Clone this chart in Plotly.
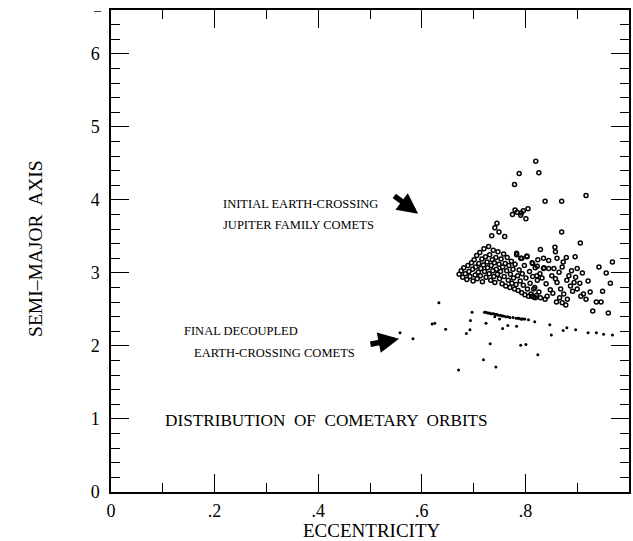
import plotly.graph_objects as go

# ---- data ----
x_tick_vals = [0, 0.2, 0.4, 0.6, 0.8, 1.0]
x_tick_text = ["0", ".2", ".4", ".6", ".8", "1"]
y_tick_vals = [0, 1, 2, 3, 4, 5, 6]
y_tick_text = ["0", "1", "2", "3", "4", "5", "6"]

# initial Earth-crossing Jupiter family comets (open circles)
initial_pts = [
    (0.820, 4.53), (0.788, 4.36), (0.826, 4.37), (0.779, 4.21), (0.917, 4.06), (0.838, 3.98), (0.870, 3.98),
    (0.775, 3.80), (0.780, 3.86), (0.784, 3.83), (0.792, 3.82), (0.796, 3.85), (0.805, 3.88), (0.801, 3.74), (0.791, 3.79),
    (0.745, 3.68), (0.741, 3.62), (0.749, 3.56), (0.735, 3.51), (0.760, 3.50), (0.870, 3.56), (0.906, 3.41), (0.829, 3.32),
    (0.857, 3.35), (0.858, 3.29), (0.879, 3.21), (0.896, 3.22), (0.942, 3.08), (0.968, 3.15), (0.956, 3.00), (0.964, 2.86),
    (0.937, 2.60), (0.946, 2.60), (0.930, 2.48), (0.960, 2.45), (0.921, 2.89), (0.949, 2.75),
    (0.672, 2.98), (0.676, 3.03), (0.679, 2.94), (0.681, 3.07), (0.684, 2.99), (0.687, 2.91), (0.689, 3.10), (0.691, 3.02),
    (0.693, 2.95), (0.696, 3.14), (0.698, 3.05), (0.699, 2.89),
    (0.701, 3.18), (0.703, 2.97), (0.704, 3.08), (0.706, 3.24), (0.707, 2.92), (0.709, 3.01), (0.710, 3.13), (0.712, 3.28),
    (0.713, 2.96), (0.714, 3.06), (0.716, 3.19), (0.717, 2.88), (0.719, 3.11), (0.720, 3.33), (0.721, 3.02), (0.723, 3.22),
    (0.724, 2.94), (0.726, 3.15), (0.727, 3.07), (0.729, 3.36), (0.730, 2.99), (0.731, 3.25), (0.733, 2.90), (0.734, 3.10),
    (0.736, 3.18), (0.737, 3.03), (0.738, 3.31), (0.739, 2.95), (0.740, 3.14),
    (0.741, 2.87), (0.743, 3.21), (0.744, 3.05), (0.746, 2.98), (0.747, 3.29), (0.749, 3.12), (0.750, 2.92), (0.752, 3.02),
    (0.753, 3.19), (0.755, 2.85), (0.756, 3.08), (0.758, 3.26), (0.759, 2.95), (0.761, 3.13), (0.762, 2.82), (0.764, 3.03),
    (0.765, 3.21), (0.767, 2.90), (0.768, 3.10), (0.770, 2.80), (0.771, 2.98), (0.773, 3.16), (0.774, 2.86), (0.776, 3.05),
    (0.777, 2.93), (0.779, 2.78),
    (0.780, 3.12), (0.782, 2.84), (0.783, 3.27), (0.785, 2.96), (0.786, 2.76), (0.788, 3.04), (0.790, 2.89), (0.791, 3.20),
    (0.793, 2.73), (0.794, 2.99), (0.796, 2.83), (0.798, 3.10), (0.799, 2.70), (0.801, 2.93), (0.803, 3.23), (0.804, 2.78),
    (0.806, 2.68), (0.808, 3.02), (0.809, 2.86), (0.811, 2.71), (0.813, 3.14), (0.814, 2.95), (0.816, 2.67), (0.818, 2.80),
    (0.819, 3.07), (0.821, 2.69), (0.823, 2.90), (0.824, 3.18), (0.826, 2.74), (0.828, 2.99), (0.829, 2.66),
    (0.835, 3.20), (0.845, 3.06), (0.851, 2.96), (0.861, 2.87), (0.868, 2.78), (0.874, 2.71), (0.881, 2.64), (0.887, 2.82),
    (0.894, 2.87), (0.900, 2.78), (0.907, 2.68), (0.912, 2.71), (0.917, 2.64), (0.871, 2.59), (0.878, 2.56), (0.842, 2.68),
    (0.848, 2.77), (0.855, 3.06), (0.865, 3.01), (0.871, 3.08), (0.873, 3.15), (0.861, 3.20), (0.884, 2.96), (0.891, 2.75),
    (0.897, 2.94), (0.900, 3.06), (0.845, 3.17), (0.835, 3.06), (0.822, 2.96), (0.816, 2.78), (0.812, 2.68), (0.819, 2.66),
    (0.838, 2.64), (0.783, 3.25), (0.793, 3.20), (0.803, 3.22), (0.814, 3.13), (0.823, 3.09), (0.836, 3.07), (0.832, 2.93),
    (0.840, 2.85), (0.853, 2.72), (0.858, 2.92), (0.866, 2.66), (0.880, 2.90), (0.889, 3.03), (0.905, 2.86), (0.910, 3.00),
    (0.925, 2.74), (0.860, 2.60),
]
initial_e = [p[0] for p in initial_pts]
initial_a = [p[1] for p in initial_pts]

# final decoupled Earth-crossing comets (small dots)
final_pts = [
    (0.633, 2.59), (0.620, 2.30), (0.625, 2.31), (0.558, 2.18), (0.583, 2.10), (0.646, 2.23), (0.697, 2.46), (0.694, 2.35),
    (0.693, 2.22), (0.686, 2.17), (0.724, 2.31), (0.732, 2.03), (0.671, 1.67), (0.719, 1.81), (0.743, 1.71), (0.791, 2.01),
    (0.801, 2.02), (0.824, 1.88), (0.756, 2.24), (0.766, 2.28), (0.783, 2.27), (0.786, 2.38), (0.793, 2.37), (0.818, 2.33),
    (0.847, 2.29), (0.850, 2.15), (0.873, 2.21), (0.880, 2.25), (0.897, 2.22), (0.921, 2.18), (0.937, 2.18), (0.951, 2.16),
    (0.968, 2.15),
    (0.721, 2.46), (0.724, 2.46), (0.727, 2.45), (0.730, 2.45), (0.733, 2.44), (0.736, 2.44), (0.739, 2.44), (0.742, 2.43),
    (0.745, 2.43), (0.748, 2.42), (0.752, 2.42), (0.755, 2.41), (0.758, 2.41), (0.762, 2.40), (0.766, 2.40), (0.770, 2.39),
    (0.776, 2.39), (0.782, 2.38), (0.787, 2.38), (0.791, 2.37), (0.795, 2.37), (0.799, 2.37), (0.806, 2.36), (0.741, 2.40),
    (0.750, 2.37),
]
final_e = [p[0] for p in final_pts]
final_a = [p[1] for p in final_pts]

SERIF = "Liberation Serif, Times New Roman, serif"

fig = go.Figure()
fig.add_trace(go.Scatter(
    x=initial_e, y=initial_a, mode="markers",
    marker=dict(symbol="circle-open", size=4, color="black", line=dict(width=1.5, color="black")),
    showlegend=False, hoverinfo="skip"))
fig.add_trace(go.Scatter(
    x=final_e, y=final_a, mode="markers",
    marker=dict(symbol="circle", size=3, color="black"),
    showlegend=False, hoverinfo="skip"))

axis_common = dict(
    showgrid=False, zeroline=False, showline=True, linecolor="black", linewidth=1.5,
    mirror="allticks", ticks="inside", tickcolor="black", tickwidth=1.2,
    tickfont=dict(family=SERIF, size=18, color="black"),
)
fig.update_xaxes(
    range=[0, 1], tickmode="array", tickvals=x_tick_vals, ticktext=x_tick_text,
    ticklen=18, ticklabelstandoff=2,
    minor=dict(ticks="inside", dtick=0.1, ticklen=9, tickcolor="black", tickwidth=1.2),
    **axis_common)
fig.update_yaxes(
    range=[0, 6.6], tickmode="array", tickvals=y_tick_vals, ticktext=y_tick_text,
    ticklen=18, ticklabelstandoff=6,
    minor=dict(ticks="inside", dtick=0.2, ticklen=9, tickcolor="black", tickwidth=1.2),
    **axis_common)

txt = dict(family=SERIF, size=12.5, color="black")
annotations = [
    dict(x=0.213, y=3.95, text="INITIAL EARTH-CROSSING", xref="x", yref="y", showarrow=False,
         xanchor="left", yanchor="middle", font=txt),
    dict(x=0.213, y=3.65, text="JUPITER FAMILY COMETS", xref="x", yref="y", showarrow=False,
         xanchor="left", yanchor="middle", font=txt),
    dict(x=0.137, y=2.20, text="FINAL DECOUPLED", xref="x", yref="y", showarrow=False,
         xanchor="left", yanchor="middle", font=txt),
    dict(x=0.156, y=1.91, text="EARTH-CROSSING COMETS", xref="x", yref="y", showarrow=False,
         xanchor="left", yanchor="middle", font=txt),
    dict(x=0.100, y=0.98, text="DISTRIBUTION  OF  COMETARY  ORBITS", xref="x", yref="y", showarrow=False,
         xanchor="left", yanchor="middle", font=dict(family=SERIF, size=17.2, color="black")),
    # arrows
    dict(x=0.593, y=3.81, ax=0.544, ay=4.07, xref="x", yref="y", axref="x", ayref="y", text="",
         showarrow=True, arrowhead=2, arrowsize=0.75, arrowwidth=5.5, arrowcolor="black"),
    dict(x=0.556, y=2.10, ax=0.498, ay=2.02, xref="x", yref="y", axref="x", ayref="y", text="",
         showarrow=True, arrowhead=2, arrowsize=0.75, arrowwidth=5.5, arrowcolor="black"),
    # axis titles
    dict(x=0.503, y=-0.079, xref="paper", yref="paper", text="ECCENTRICITY", showarrow=False,
         xanchor="center", yanchor="middle", font=dict(family=SERIF, size=19, color="black")),
    dict(x=-0.146, y=0.505, xref="paper", yref="paper", text="SEMI\u2013MAJOR  AXIS", showarrow=False,
         textangle=-90, xanchor="center", yanchor="middle", font=dict(family=SERIF, size=19.5, color="black")),
    dict(x=-0.027, y=1.0, xref="paper", yref="paper", text="\u2013", showarrow=False,
         xanchor="center", yanchor="middle", font=dict(family=SERIF, size=14, color="black")),
]

fig.update_layout(
    width=633, height=541,
    margin=dict(l=111, r=2, t=10, b=49),
    paper_bgcolor="white", plot_bgcolor="white",
    annotations=annotations,
)

fig.write_html("out.html", config={"displayModeBar": False},
               post_script="document.body.style.margin='0';document.body.style.overflow='hidden';")
